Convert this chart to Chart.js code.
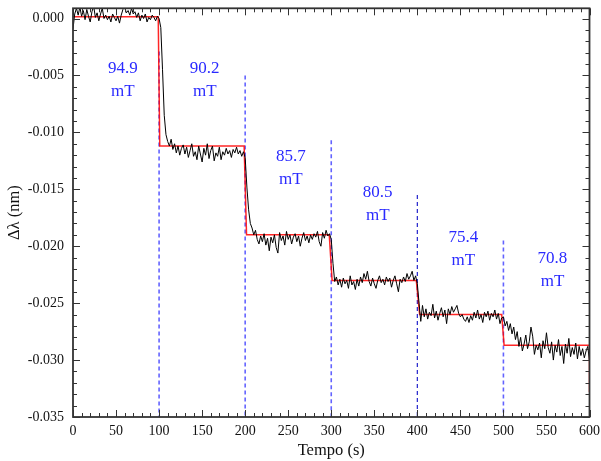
<!DOCTYPE html>
<html>
<head>
<meta charset="utf-8">
<script src="https://cdn.jsdelivr.net/npm/chart.js@4.4.0/dist/chart.umd.min.js"></script>
<style>
  body { margin: 0; background: #fff; }
  #wrap { width: 601px; height: 461px; }
</style>
</head>
<body>
<div id="wrap"><canvas id="grafico"></canvas></div>
<script>
// amostragem do sinal: uma leitura a cada 2 s
const passo = 2;

// deslocamento Δλ (nm), de 0 a 600 s
const deltaLambda = [
  -0.0009, 0.0004, 0.0009, 0.0003, 0.0010, 0.0002, 0.0007, -0.0001, 0.0008, 0.0002,
  -0.0003, 0.0006, 0.0011, 0.0001, 0.0005, -0.0002, 0.0004, 0.0009, 0.0000, 0.0003,
  -0.0001, 0.0002, -0.0003, 0.0004, 0.0001, -0.0002, 0.0002, -0.0004, 0.0003, 0.0008,
  0.0010, 0.0005, 0.0007, 0.0003, 0.0009, 0.0004, 0.0006, 0.0001, 0.0005, -0.0002,
  0.0003, 0.0000, 0.0004, -0.0003, 0.0001, -0.0001, 0.0003, 0.0001, -0.0002, 0.0002,
  0.0000, -0.0008, -0.0045, -0.0085, -0.0102, -0.0108, -0.0112, -0.0106, -0.0115, -0.0110,
  -0.0118, -0.0112, -0.0120, -0.0114, -0.0111, -0.0119, -0.0113, -0.0122, -0.0116, -0.0110,
  -0.0121, -0.0117, -0.0124, -0.0112, -0.0119, -0.0126, -0.0114, -0.0120, -0.0110, -0.0123,
  -0.0116, -0.0112, -0.0125, -0.0118, -0.0121, -0.0113, -0.0124, -0.0117, -0.0120, -0.0114,
  -0.0119, -0.0116, -0.0122, -0.0115, -0.0118, -0.0113, -0.0119, -0.0116, -0.0121, -0.0117,
  -0.0122, -0.0148, -0.0168, -0.0180, -0.0184, -0.0190, -0.0186, -0.0194, -0.0198, -0.0191,
  -0.0196, -0.0189, -0.0199, -0.0193, -0.0204, -0.0192, -0.0197, -0.0190, -0.0201, -0.0206,
  -0.0188, -0.0195, -0.0191, -0.0199, -0.0187, -0.0194, -0.0190, -0.0198, -0.0192, -0.0189,
  -0.0196, -0.0191, -0.0200, -0.0193, -0.0188, -0.0195, -0.0191, -0.0197, -0.0190, -0.0194,
  -0.0189, -0.0192, -0.0187, -0.0196, -0.0200, -0.0188, -0.0193, -0.0186, -0.0191, -0.0189,
  -0.0194, -0.0215, -0.0231, -0.0227, -0.0234, -0.0229, -0.0236, -0.0228, -0.0233, -0.0230,
  -0.0237, -0.0226, -0.0234, -0.0231, -0.0238, -0.0229, -0.0235, -0.0227, -0.0232, -0.0224,
  -0.0229, -0.0222, -0.0231, -0.0235, -0.0228, -0.0233, -0.0237, -0.0230, -0.0226, -0.0232,
  -0.0229, -0.0234, -0.0227, -0.0231, -0.0228, -0.0236, -0.0230, -0.0226, -0.0233, -0.0240,
  -0.0229, -0.0232, -0.0227, -0.0231, -0.0224, -0.0229, -0.0226, -0.0222, -0.0230, -0.0226,
  -0.0233, -0.0250, -0.0266, -0.0252, -0.0262, -0.0255, -0.0264, -0.0258, -0.0261, -0.0251,
  -0.0263, -0.0257, -0.0265, -0.0259, -0.0254, -0.0262, -0.0256, -0.0268, -0.0255, -0.0260,
  -0.0253, -0.0258, -0.0255, -0.0252, -0.0259, -0.0262, -0.0260, -0.0264, -0.0266, -0.0262,
  -0.0267, -0.0261, -0.0265, -0.0258, -0.0263, -0.0256, -0.0264, -0.0260, -0.0267, -0.0258,
  -0.0262, -0.0257, -0.0265, -0.0259, -0.0262, -0.0256, -0.0264, -0.0259, -0.0268, -0.0263,
  -0.0262, -0.0270, -0.0266, -0.0274, -0.0268, -0.0277, -0.0271, -0.0282, -0.0275, -0.0288,
  -0.0280, -0.0292, -0.0286, -0.0278, -0.0290, -0.0284, -0.0271, -0.0279, -0.0295, -0.0287,
  -0.0291, -0.0285, -0.0298, -0.0283, -0.0290, -0.0276, -0.0289, -0.0294, -0.0284, -0.0300,
  -0.0287, -0.0293, -0.0282, -0.0296, -0.0288, -0.0303, -0.0286, -0.0294, -0.0281, -0.0297,
  -0.0289, -0.0295, -0.0285, -0.0299, -0.0288, -0.0296, -0.0290, -0.0298, -0.0292, -0.0288,
  -0.0301
];

// ajuste em degraus (linha vermelha)
const degrauTempo = [0, 99, 100.8, 198.8, 201.6, 297.7, 301, 398.8, 402.7, 498, 500.8, 600, 600];
const degrauValor = [0.00015, 0.00015, -0.0112, -0.0112, -0.0190, -0.0190, -0.0230, -0.0230,
                     -0.0260, -0.0260, -0.0287, -0.0287, -0.0328];

// linhas tracejadas de troca de campo
const trocaTempo = [100, 200, 300, 400, 500];
const trocaTopo = [-0.0029, -0.0050, -0.0107, -0.0155, -0.0195];

// campo magnético em cada intervalo
const campos = ['94.9', '90.2', '85.7', '80.5', '75.4', '70.8'];
const camposX = [58, 153, 253, 354, 453.5, 557];
const camposY = [-0.0044, -0.0044, -0.0121, -0.0153, -0.0192, -0.0211];

const fonte = "'Liberation Serif', 'Times New Roman', serif";

const sinal = deltaLambda.map((v, i) => ({ x: i * passo, y: v }));
const degrau = degrauTempo.map((t, i) => ({ x: t, y: degrauValor[i] }));
const tracejadas = trocaTempo.map((t, i) => ({
  data: [{ x: t, y: trocaTopo[i] }, { x: t, y: -0.035 }],
  borderColor: t === 400 ? 'rgba(20,20,200,0.95)' : 'rgba(60,60,255,0.8)',
  borderWidth: t === 400 ? 1.2 : 1.6,
  borderDash: [4, 3],
  pointRadius: 0,
  order: 2
}));

const moldura = {
  id: 'moldura',
  afterDatasetsDraw(chart) {
    const { ctx, chartArea: a, scales: { x, y } } = chart;
    ctx.save();
    ctx.strokeStyle = '#333';
    ctx.lineWidth = 1;
    ctx.beginPath();
    for (let t = 0; t <= 600; t += 10) {
      const px = Math.round(x.getPixelForValue(t)) + 0.5;
      const len = t % 50 === 0 ? 7 : 4;
      ctx.moveTo(px, a.bottom); ctx.lineTo(px, a.bottom - len);
      ctx.moveTo(px, a.top); ctx.lineTo(px, a.top + len);
    }
    for (let k = -35; k <= 0; k++) {
      const py = Math.round(y.getPixelForValue(k * 0.001)) + 0.5;
      const len = k % 5 === 0 ? 7 : 4;
      ctx.moveTo(a.left, py); ctx.lineTo(a.left + len, py);
      ctx.moveTo(a.right, py); ctx.lineTo(a.right - len, py);
    }
    ctx.stroke();
    ctx.lineWidth = 1.8;
    ctx.strokeRect(a.left, a.top, a.right - a.left, a.bottom - a.top);

    // rótulos de campo
    ctx.fillStyle = '#2a2aff';
    ctx.font = '17px ' + fonte;
    ctx.textAlign = 'center';
    ctx.textBaseline = 'middle';
    campos.forEach((c, i) => {
      const px = x.getPixelForValue(camposX[i]);
      const py = y.getPixelForValue(camposY[i]);
      ctx.fillText(c, px, py);
      ctx.fillText('mT', px, py + 23);
    });
    ctx.restore();
  }
};

new Chart(document.getElementById('grafico'), {
  type: 'line',
  data: {
    datasets: [
      { data: sinal, borderColor: '#000', borderWidth: 1, pointRadius: 0, tension: 0, order: 0 },
      { data: degrau, borderColor: 'rgba(255,0,0,0.85)', borderWidth: 1.5, pointRadius: 0, tension: 0, order: 1 },
      ...tracejadas
    ]
  },
  options: {
    responsive: true,
    maintainAspectRatio: false,
    animation: false,
    devicePixelRatio: 1,
    layout: { padding: { left: 0, right: 11.5, top: 8.3, bottom: 0 } },
    plugins: { legend: { display: false }, tooltip: { enabled: false } },
    scales: {
      x: {
        type: 'linear',
        min: 0, max: 600,
        grid: { display: false, drawTicks: false },
        border: { display: false },
        ticks: { stepSize: 50, padding: 6, color: '#111', font: { family: fonte, size: 14 }, maxRotation: 0 },
        title: { display: true, text: 'Tempo (s)', color: '#111', font: { family: fonte, size: 16.5 }, padding: 0 },
        afterFit(s) { s.height = 44; s.paddingLeft = 0; s.paddingRight = 0; }
      },
      y: {
        min: -0.035, max: 0.0009,
        grid: { display: false, drawTicks: false },
        border: { display: false },
        ticks: {
          stepSize: 0.005, includeBounds: false, padding: 9, color: '#111',
          font: { family: fonte, size: 14 },
          callback: v => (Math.abs(v) < 1e-9 ? 0 : v).toFixed(3)
        },
        title: { display: true, text: 'Δλ (nm)', color: '#111', font: { family: fonte, size: 16.5 }, padding: { top: 5, bottom: 0 } },
        afterFit(s) { s.width = 73; s.paddingTop = 0; s.paddingBottom = 0; }
      }
    }
  },
  plugins: [moldura]
});
</script>
</body>
</html>
